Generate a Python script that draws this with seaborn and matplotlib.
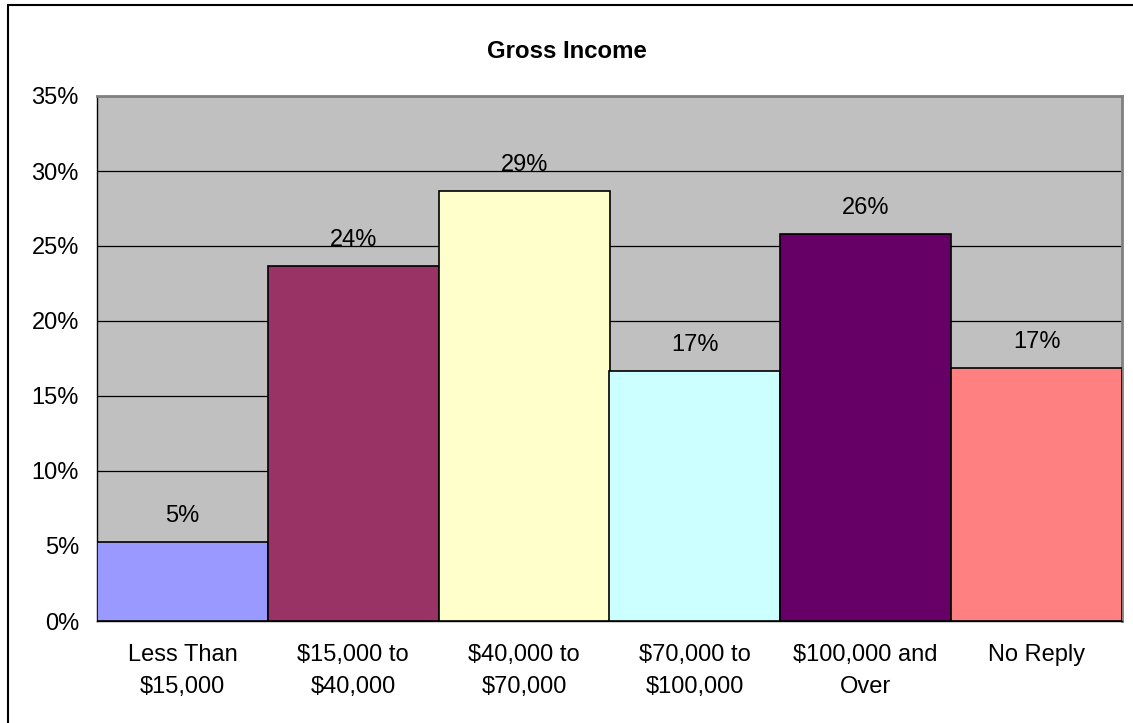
import matplotlib
matplotlib.use("Agg")
import matplotlib.pyplot as plt
import seaborn as sns
import pandas as pd
from matplotlib.patches import Rectangle
from matplotlib.ticker import FixedLocator

categories = ["Less Than\n$15,000", "$15,000 to\n$40,000", "$40,000 to\n$70,000",
              "$70,000 to\n$100,000", "$100,000 and\nOver", "No Reply"]
values = [5.3, 23.7, 28.7, 16.7, 25.8, 16.9]
labels = ["5%", "24%", "29%", "17%", "26%", "17%"]
colors = ["#9999FF", "#993366", "#FFFFCC", "#CCFFFF", "#660066", "#FF8080"]
yticks = [0, 5, 10, 15, 20, 25, 30, 35]
title = "Gross Income"

sns.set_theme(style="white")
plt.rcParams["font.family"] = ["Liberation Sans", "DejaVu Sans"]
plt.rcParams["text.color"] = "black"
plt.rcParams["xtick.color"] = "black"
plt.rcParams["ytick.color"] = "black"

FS = 17

fig = plt.figure(figsize=(11.33, 7.23), dpi=100)
ax = fig.add_axes([97/1133, 1-621/723, (1122-97)/1133, (621-96)/723])
ax.set_facecolor("#C0C0C0")

df = pd.DataFrame({"cat": categories, "val": values})
sns.barplot(data=df, x="cat", y="val", hue="cat", palette=colors, legend=False,
            width=1.0, edgecolor="black", linewidth=1.2, saturation=1, ax=ax, zorder=3)

ax.set_ylim(0, 35)
ax.set_xlim(-0.5, len(categories) - 0.5)
ax.yaxis.set_major_locator(FixedLocator(yticks))
ax.set_yticklabels([f"{t}%" for t in yticks], fontsize=FS, color="black")
ax.grid(axis="y", color="#000000", linewidth=0.9, zorder=1)
ax.set_axisbelow(True)
ax.set_xlabel("")
ax.set_ylabel("")
ax.tick_params(axis="x", which="major", length=0, labelsize=FS, pad=16.5, labelcolor="black")
ax.xaxis.set_minor_locator(FixedLocator([i - 0.5 for i in range(len(categories) + 1)]))
ax.tick_params(axis="x", which="minor", length=7, width=1, color="black", direction="out")
ax.tick_params(axis="y", length=7, width=1, color="black", direction="out", pad=6)
for t in ax.get_xticklabels():
    t.set_linespacing(1.57)

for s in ["top", "right"]:
    ax.spines[s].set_color("#808080")
    ax.spines[s].set_linewidth(2)
for s in ["left", "bottom"]:
    ax.spines[s].set_color("black")
    ax.spines[s].set_linewidth(1)

for i, (v, lab) in enumerate(zip(values, labels)):
    ax.annotate(lab, xy=(i, v), xytext=(0, 18.5), textcoords="offset points",
                ha="center", va="center", fontsize=FS, color="black", zorder=5)

fig.text(0.5, 1-52/723, title, ha="center", va="center", fontsize=17.3,
         fontweight="bold", color="black")

fig.patches.append(Rectangle((8/1133, -0.1), 1.2, 1 - 5.5/723 + 0.1, transform=fig.transFigure,
                             fill=False, edgecolor="black", linewidth=1.5))

fig.savefig("out.png", dpi=100)
